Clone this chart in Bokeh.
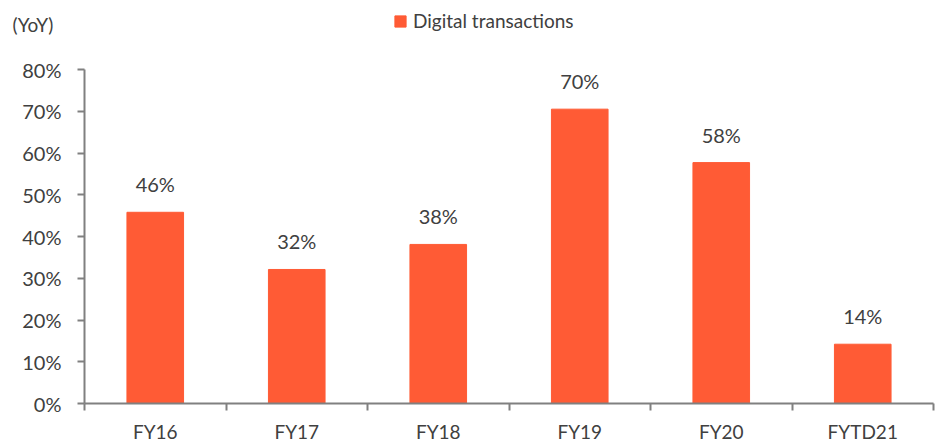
from bokeh.plotting import figure
from bokeh.layouts import column
from bokeh.models import ColumnDataSource, FixedTicker, Range1d, Legend, LegendItem, Label
from bokeh.core.properties import value
from bokeh.embed import file_html
from bokeh.resources import INLINE

categories = ["FY16", "FY17", "FY18", "FY19", "FY20", "FYTD21"]
growth = [0.458, 0.321, 0.381, 0.705, 0.577, 0.142]
y_ticks = [0.0, 0.1, 0.2, 0.3, 0.4, 0.5, 0.6, 0.7, 0.8]
y_labels = ["0%", "10%", "20%", "30%", "40%", "50%", "60%", "70%", "80%"]
series_name = "Digital transactions"
unit_label = "(YoY)"

FONT = "Lato"
TXT = "#404040"
BAR = "#FF5B35"
AX = "#808080"

# ---- header strip: unit label + legend ----
top = figure(width=946, height=40, output_backend="svg", toolbar_location=None,
             x_range=Range1d(0, 1), y_range=Range1d(0, 1),
             min_border=0, min_border_left=0, min_border_right=0,
             min_border_top=0, min_border_bottom=0)
top.frame_align = False
top.axis.visible = False
top.grid.visible = False
top.outline_line_color = None
# legend swatch renderer (kept outside the visible range of this strip)
leg_r = top.vbar(x=[-5], top=[-5], width=0.4, fill_color=BAR, line_color=BAR)
legend = Legend(items=[LegendItem(label=series_name, renderers=[leg_r])],
                location=(393, 8), orientation="horizontal",
                label_text_font=FONT, label_text_font_size="19px",
                label_text_color=TXT, border_line_color=None,
                background_fill_alpha=0, glyph_width=14, glyph_height=14,
                label_standoff=6, padding=0, margin=0)
top.add_layout(legend, "center")
top.add_layout(Label(x=12, y=16, x_units="screen", y_units="screen",
                     text=unit_label, text_font=FONT, text_font_size="19px",
                     text_color=TXT, text_baseline="middle"))

# ---- main chart ----
xs = [i + 0.5 for i in range(len(categories))]
src = ColumnDataSource(dict(x=xs, top=growth,
                            lab=[f"{round(v*100):.0f}%" for v in growth]))

p = figure(width=946, height=405, output_backend="svg", toolbar_location=None,
           x_range=Range1d(0, len(categories)), y_range=Range1d(0, 0.8),
           min_border_left=84, min_border_right=13, min_border_top=29,
           min_border_bottom=41)
p.frame_align = False
p.outline_line_color = None
p.xgrid.visible = False
p.ygrid.visible = False

r = p.vbar(x="x", top="top", width=0.40, bottom=0, source=src, fill_color=BAR,
           line_color=BAR)
p.text(x="x", y="top", text="lab", source=src, text_align="center",
       text_baseline="bottom", y_offset=-16, text_font=value(FONT),
       text_font_size="20px", text_color=TXT)

p.xaxis.ticker = FixedTicker(ticks=xs, minor_ticks=list(range(len(categories) + 1)))
p.xaxis.major_label_overrides = {x: c for x, c in zip(xs, categories)}
p.xaxis.major_tick_out = 0
p.xaxis.major_tick_in = 0
p.xaxis.minor_tick_out = 7
p.xaxis.minor_tick_in = 0
p.xaxis.minor_tick_line_color = AX
p.xaxis.minor_tick_line_width = 2
p.xaxis.major_label_standoff = 9
p.xaxis.axis_line_color = AX
p.xaxis.axis_line_width = 2

p.yaxis.ticker = FixedTicker(ticks=y_ticks, minor_ticks=[])
p.yaxis.major_label_overrides = {t: l for t, l in zip(y_ticks, y_labels)}
p.yaxis.major_tick_out = 7
p.yaxis.major_tick_in = 0
p.yaxis.major_tick_line_color = AX
p.yaxis.major_tick_line_width = 2
p.yaxis.major_label_standoff = 16
p.yaxis.axis_line_color = AX
p.yaxis.axis_line_width = 2

p.xaxis.major_label_text_font_size = "19px"
p.yaxis.major_label_text_font_size = "20px"
for ax in (p.xaxis, p.yaxis):
    ax.major_label_text_font = FONT
    ax.major_label_text_color = TXT

layout = column(top, p, spacing=0)
open("out.html", "w").write(file_html(layout, INLINE))
